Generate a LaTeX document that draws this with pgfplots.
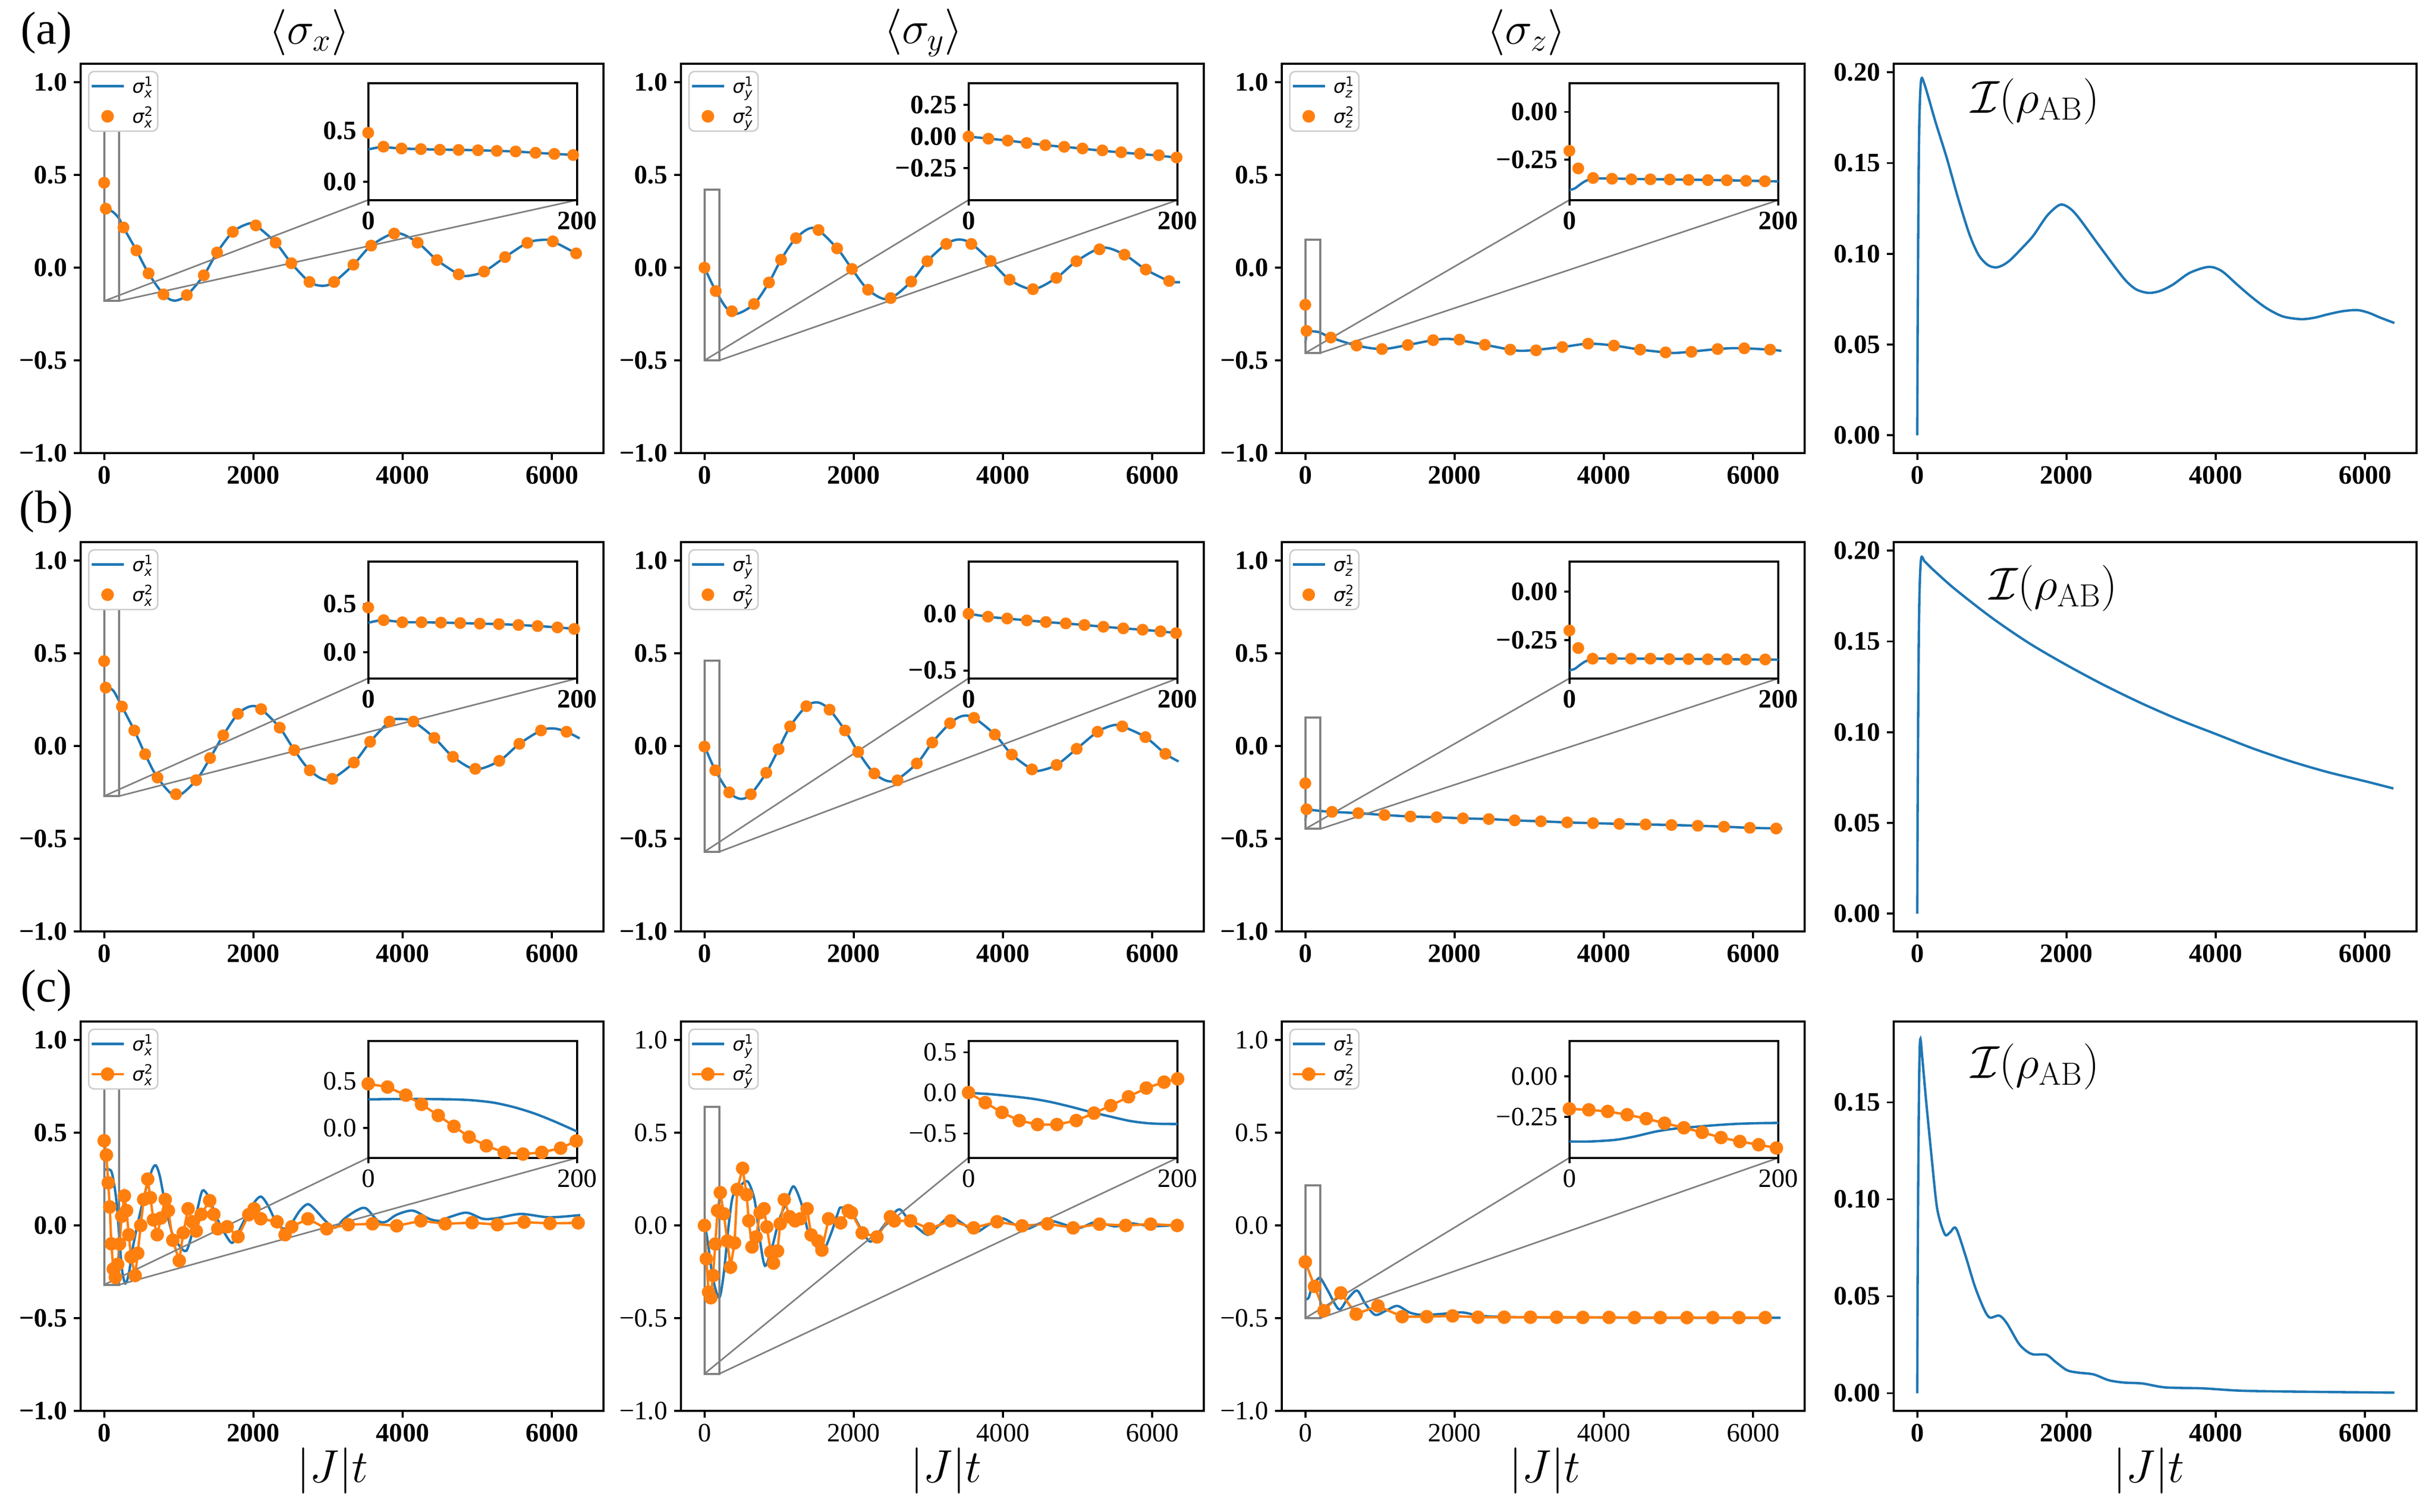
\documentclass[border=0pt]{standalone}
\usepackage[no-math]{fontspec}
\setmainfont{Liberation Serif}
\newfontfamily\djv{DejaVu Sans}
\usepackage{pgfplots}
\pgfplotsset{compat=1.18}

\definecolor{tblue}{HTML}{1F77B4}
\definecolor{torange}{HTML}{FF7F0E}
\definecolor{zgray}{HTML}{808080}

\newcommand\tfb{\fontsize{14.3}{16}\selectfont\bfseries}
\newcommand\tfr{\fontsize{14.3}{16}\selectfont}
\newcommand\lgf{\djv\fontsize{10}{11}\selectfont}
\newcommand\lsig[2]{{\djv\itshape σ}$^{\hbox{\djv\fontsize{7}{8}\selectfont #1}}_{\hbox{\djv\itshape\fontsize{7}{8}\selectfont #2}}$\hspace{0.07cm}}

\tikzset{
  zrect/.style={zgray, line width=1.1pt},
  zline/.style={zgray, line width=0.85pt},
}
\pgfplotsset{
  base/.style={scale only axis, tick pos=left, tick align=outside,
    tick style={black, line width=1.1pt}, axis line style={line width=1.1pt},
    tick label style={font=\tfb},
    legend image code/.code={\draw[mark repeat=2,mark phase=2,##1] plot coordinates {(0cm,0cm) (0.305cm,0cm) (0.61cm,0cm)};\path[draw=none,fill=none] (0.73cm,0cm) circle (0pt);}},
  mainax/.style={base, width=9.92cm, height=7.39cm, xmin=-315, xmax=6690, ymin=-1, ymax=1.1,
    xtick={0,2000,4000,6000}, xticklabels={0,2000,4000,6000},
    ytick={-1,-0.5,0,0.5,1}, yticklabels={\textminus1.0,\textminus0.5,0.0,0.5,1.0},
    major tick length=0.13cm,
    legend cell align=left,
    legend style={at={(axis description cs:0.014,0.982)}, anchor=north west,
      draw=black!20, line width=0.8pt, rounded corners=3pt, fill=white,
      inner xsep=0.03cm, inner ysep=0.05cm, row sep=0.11cm, font=\lgf,
      nodes={inner sep=0.05cm}}},
  insax/.style={base, width=3.968cm, height=2.217cm, xmin=0, xmax=200,
    xtick={0,200}, xticklabels={0,200}, major tick length=0.1cm,
    axis background/.style={fill=white}},
  iax/.style={base, width=9.92cm, height=7.39cm, xmin=-315, xmax=6690,
    xtick={0,2000,4000,6000}, xticklabels={0,2000,4000,6000}, major tick length=0.13cm},
  reg/.style={tick label style={font=\tfr}},
  bl/.style={color=tblue, line width=1.3pt, smooth, tension=0.5, mark=none},
  om/.style={color=torange, only marks, mark=*, mark size=3pt, mark options={fill=torange}},
  ol/.style={color=torange, line width=1.3pt, mark=*, mark size=3pt, mark options={fill=torange}},
}

\begin{document}
\begin{tikzpicture}
\path[use as bounding box] (0,0) rectangle (46.2cm,-28.7cm);

% titles and panel labels
\node at (5.87cm,-0.62cm) {\fontsize{23}{27}\selectfont$\langle\sigma_x\rangle$};
\node at (17.52cm,-0.62cm) {\fontsize{23}{27}\selectfont$\langle\sigma_y\rangle$};
\node at (28.96cm,-0.62cm) {\fontsize{23}{27}\selectfont$\langle\sigma_z\rangle$};
\node at (0.88cm,-0.62cm) {\fontsize{25}{30}\selectfont (a)};
\node at (0.88cm,-9.71cm) {\fontsize{25}{30}\selectfont (b)};
\node at (0.88cm,-18.80cm) {\fontsize{25}{30}\selectfont (c)};
\node at (6.31cm,-27.92cm) {\fontsize{24}{28}\selectfont$|J|t$};
\node at (17.95cm,-27.92cm) {\fontsize{24}{28}\selectfont$|J|t$};
\node at (29.31cm,-27.92cm) {\fontsize{24}{28}\selectfont$|J|t$};
\node at (40.77cm,-27.92cm) {\fontsize{24}{28}\selectfont$|J|t$};

%%%%%%%%%%%%%%%% row (a)
% a1
\begin{axis}[mainax, at={(1.53cm,-1.21cm)}, anchor=north west]
\addplot[bl] coordinates {(0,0.30)(22,0.318)(120,0.30)(200,0.265)(259,0.217)(432,0.093)(595,-0.031)(795,-0.144)(940,-0.178)(1108,-0.148)(1335,-0.041)(1513,0.082)(1724,0.193)(1930,0.237)(2032,0.228)(2297,0.135)(2508,0.024)(2751,-0.077)(2930,-0.098)(3081,-0.077)(3340,0.016)(3578,0.119)(3910,0.187)(4200,0.135)(4459,0.041)(4751,-0.036)(4876,-0.044)(5091,-0.021)(5372,0.057)(5670,0.134)(5876,0.150)(6011,0.142)(6324,0.077)(6370,0.068)};
\addplot[om] coordinates {(0,0.458)(22,0.318)(259,0.217)(432,0.093)(595,-0.031)(795,-0.144)(1108,-0.148)(1335,-0.041)(1513,0.082)(1724,0.193)(2032,0.228)(2297,0.135)(2508,0.024)(2751,-0.077)(3081,-0.077)(3340,0.016)(3578,0.119)(3886,0.184)(4200,0.135)(4459,0.041)(4751,-0.036)(5091,-0.021)(5372,0.057)(5670,0.134)(6011,0.142)(6324,0.077)};
\draw[zrect] (axis cs:0,-0.18) rectangle (axis cs:200,0.97);
\draw[zline] (axis cs:0,-0.18) -- (axis description cs:0.55,0.65) (axis cs:200,-0.18) -- (axis description cs:0.95,0.65);
\addlegendentry{\lsig{1}{x}}
\addlegendentry{\lsig{2}{x}}
\end{axis}
\begin{axis}[insax, at={(6.986cm,-3.7965cm)}, anchor=south west, ymin=-0.18, ymax=0.97, ytick={0,0.5}, yticklabels={0.0,0.5}]
\addplot[bl] coordinates {(0,0.318)(8,0.335)(15,0.34)(32,0.327)(50,0.321)(68,0.316)(86,0.314)(105,0.31)(123,0.304)(141,0.297)(160,0.285)(178,0.274)(200,0.262)};
\addplot[om] coordinates {(0,0.482)(14.6,0.345)(31.9,0.327)(50.4,0.321)(68.5,0.315)(86.5,0.313)(105,0.310)(123,0.304)(141,0.298)(160,0.285)(178,0.274)(196,0.263)};
\end{axis}

% a2
\begin{axis}[mainax, at={(12.92cm,-1.21cm)}, anchor=north west]
\addplot[bl] coordinates {(0,0)(151,-0.126)(300,-0.22)(432,-0.249)(664,-0.196)(864,-0.08)(1026,0.043)(1226,0.159)(1470,0.214)(1777,0.104)(1976,-0.007)(2192,-0.119)(2460,-0.17)(2770,-0.075)(2986,0.035)(3240,0.128)(3410,0.152)(3575,0.13)(3834,0.036)(4088,-0.065)(4401,-0.116)(4714,-0.055)(4984,0.035)(5330,0.108)(5627,0.07)(5913,-0.01)(6226,-0.072)(6372,-0.078)};
\addplot[om] coordinates {(0,0)(151,-0.126)(367,-0.235)(664,-0.196)(864,-0.080)(1026,0.043)(1226,0.159)(1528,0.203)(1777,0.104)(1976,-0.007)(2192,-0.119)(2495,-0.164)(2770,-0.075)(2986,0.035)(3240,0.128)(3575,0.128)(3834,0.036)(4088,-0.065)(4401,-0.116)(4714,-0.055)(4984,0.035)(5292,0.099)(5627,0.070)(5913,-0.010)(6226,-0.072)};
\draw[zrect] (axis cs:0,-0.50) rectangle (axis cs:200,0.42);
\draw[zline] (axis cs:0,-0.50) -- (axis description cs:0.55,0.65) (axis cs:200,-0.50) -- (axis description cs:0.95,0.65);
\addlegendentry{\lsig{1}{y}}
\addlegendentry{\lsig{2}{y}}
\end{axis}
\begin{axis}[insax, at={(18.376cm,-3.7965cm)}, anchor=south west, ymin=-0.50, ymax=0.42, ytick={-0.25,0,0.25}, yticklabels={\textminus0.25,0.00,0.25}]
\addplot[bl] coordinates {(0,0)(20,-0.017)(40,-0.034)(60,-0.055)(80,-0.073)(100,-0.088)(120,-0.105)(140,-0.121)(160,-0.135)(180,-0.149)(200,-0.167)};
\addplot[om] coordinates {(0,0)(19,-0.017)(37.5,-0.032)(55.6,-0.051)(73.4,-0.068)(91.5,-0.081)(109,-0.094)(128,-0.109)(146,-0.124)(164,-0.135)(182,-0.147)(199,-0.165)};
\end{axis}

% a3
\begin{axis}[mainax, at={(24.32cm,-1.21cm)}, anchor=north west]
\addplot[bl] coordinates {(0,-0.406)(15,-0.36)(30,-0.342)(120,-0.344)(200,-0.35)(341,-0.377)(687,-0.42)(1027,-0.439)(1373,-0.417)(1713,-0.391)(1950,-0.385)(2405,-0.416)(2746,-0.442)(2950,-0.448)(3443,-0.428)(3789,-0.410)(4135,-0.42)(4486,-0.442)(4827,-0.457)(5000,-0.459)(5524,-0.439)(5800,-0.434)(6227,-0.442)(6378,-0.449)};
\addplot[om] coordinates {(0,-0.2)(16,-0.341)(341,-0.377)(687,-0.420)(1027,-0.439)(1373,-0.417)(1713,-0.391)(2065,-0.388)(2405,-0.416)(2746,-0.442)(3092,-0.446)(3443,-0.428)(3789,-0.410)(4135,-0.420)(4486,-0.442)(4827,-0.457)(5173,-0.454)(5524,-0.439)(5881,-0.435)(6227,-0.442)};
\draw[zrect] (axis cs:0,-0.46) rectangle (axis cs:200,0.15);
\draw[zline] (axis cs:0,-0.46) -- (axis description cs:0.55,0.65) (axis cs:200,-0.46) -- (axis description cs:0.95,0.65);
\addlegendentry{\lsig{1}{z}}
\addlegendentry{\lsig{2}{z}}
\end{axis}
\begin{axis}[insax, at={(29.776cm,-3.7965cm)}, anchor=south west, ymin=-0.46, ymax=0.15, ytick={-0.25,0}, yticklabels={\textminus0.25,0.00}]
\addplot[bl] coordinates {(0,-0.408)(5,-0.40)(10,-0.38)(15,-0.362)(20,-0.352)(30,-0.347)(60,-0.35)(100,-0.353)(150,-0.357)(200,-0.363)};
\addplot[om] coordinates {(0,-0.203)(8.5,-0.295)(22.7,-0.345)(40.8,-0.349)(59.3,-0.352)(77.5,-0.352)(96,-0.353)(114,-0.355)(132.5,-0.356)(150.6,-0.357)(169,-0.36)(187,-0.362)};
\end{axis}

% a4
\begin{axis}[iax, at={(35.93cm,-1.21cm)}, anchor=north west, ymin=-0.00975, ymax=0.2047, ytick={0,0.05,0.1,0.15,0.2}, yticklabels={0.00,0.05,0.10,0.15,0.20}]
\addplot[bl] coordinates {(0,0)(10,0.09)(25,0.165)(50,0.195)(100,0.193)(242,0.173)(394,0.153)(545,0.131)(697,0.111)(820,0.0995)(940,0.0940)(1050,0.0925)(1150,0.0938)(1252,0.0968)(1400,0.103)(1555,0.110)(1740,0.121)(1909,0.127)(2030,0.1255)(2161,0.120)(2464,0.103)(2767,0.0865)(2930,0.0805)(3096,0.0785)(3250,0.0795)(3424,0.0830)(3650,0.0895)(3904,0.0928)(4080,0.0905)(4282,0.0832)(4486,0.0760)(4686,0.0699)(4900,0.0655)(5141,0.064)(5320,0.0648)(5494,0.0666)(5700,0.0684)(5898,0.069)(6050,0.0675)(6201,0.0649)(6393,0.0619)};
\node[anchor=west] at (axis description cs:0.135,0.903) {\fontsize{24}{28}\selectfont$\mathcal{I}(\rho_{\rm AB})$};
\end{axis}

%%%%%%%%%%%%%%%% row (b)
% b1
\begin{axis}[mainax, at={(1.53cm,-10.29cm)}, anchor=north west]
\addplot[bl] coordinates {(0,0.30)(21,0.315)(120,0.30)(238,0.213)(404,0.084)(549,-0.044)(715,-0.17)(963,-0.27)(1233,-0.184)(1419,-0.065)(1596,0.058)(1792,0.174)(1968,0.215)(2103,0.199)(2352,0.099)(2548,-0.022)(2756,-0.131)(3004,-0.183)(3346,-0.089)(3564,0.023)(3823,0.132)(3960,0.146)(4144,0.132)(4424,0.044)(4673,-0.058)(4973,-0.125)(5294,-0.080)(5563,0.012)(5853,0.084)(6020,0.095)(6195,0.077)(6371,0.041)};
\addplot[om] coordinates {(0,0.458)(21,0.315)(238,0.213)(404,0.084)(549,-0.044)(715,-0.170)(963,-0.260)(1233,-0.184)(1419,-0.065)(1596,0.058)(1792,0.174)(2103,0.199)(2352,0.099)(2548,-0.022)(2756,-0.131)(3056,-0.177)(3346,-0.089)(3564,0.023)(3823,0.132)(4144,0.132)(4424,0.044)(4673,-0.058)(4973,-0.123)(5294,-0.080)(5563,0.012)(5853,0.084)(6195,0.077)};
\draw[zrect] (axis cs:0,-0.27) rectangle (axis cs:200,0.94);
\draw[zline] (axis cs:0,-0.27) -- (axis description cs:0.55,0.65) (axis cs:200,-0.27) -- (axis description cs:0.95,0.65);
\addlegendentry{\lsig{1}{x}}
\addlegendentry{\lsig{2}{x}}
\end{axis}
\begin{axis}[insax, at={(6.986cm,-12.8765cm)}, anchor=south west, ymin=-0.27, ymax=0.94, ytick={0,0.5}, yticklabels={0.0,0.5}]
\addplot[bl] coordinates {(0,0.306)(8,0.325)(15,0.333)(33,0.313)(51,0.311)(70,0.308)(88,0.303)(107,0.297)(125,0.292)(144,0.283)(162,0.272)(181,0.258)(200,0.24)};
\addplot[om] coordinates {(0,0.464)(14.8,0.333)(32.6,0.311)(51,0.311)(69.6,0.308)(88,0.303)(106.7,0.297)(125,0.292)(143.7,0.283)(162,0.272)(181,0.258)(197,0.242)};
\end{axis}

% b2
\begin{axis}[mainax, at={(12.92cm,-10.29cm)}, anchor=north west]
\addplot[bl] coordinates {(0,0)(145,-0.131)(331,-0.25)(486,-0.285)(621,-0.26)(828,-0.144)(993,-0.017)(1148,0.106)(1365,0.215)(1521,0.235)(1676,0.196)(1883,0.084)(2059,-0.032)(2276,-0.148)(2524,-0.19)(2845,-0.094)(3052,0.019)(3290,0.123)(3455,0.162)(3611,0.152)(3890,0.062)(4118,-0.046)(4387,-0.126)(4490,-0.133)(4718,-0.102)(4987,-0.015)(5267,0.077)(5473,0.112)(5598,0.106)(5908,0.048)(6176,-0.042)(6352,-0.083)};
\addplot[om] coordinates {(0,-0.003)(145,-0.131)(331,-0.250)(621,-0.260)(828,-0.144)(993,-0.017)(1148,0.106)(1365,0.215)(1676,0.196)(1883,0.084)(2059,-0.032)(2276,-0.148)(2586,-0.185)(2845,-0.094)(3052,0.019)(3290,0.123)(3611,0.152)(3890,0.062)(4118,-0.046)(4387,-0.126)(4718,-0.102)(4987,-0.015)(5267,0.077)(5598,0.106)(5908,0.048)(6176,-0.042)};
\draw[zrect] (axis cs:0,-0.57) rectangle (axis cs:200,0.46);
\draw[zline] (axis cs:0,-0.57) -- (axis description cs:0.55,0.65) (axis cs:200,-0.57) -- (axis description cs:0.95,0.65);
\addlegendentry{\lsig{1}{y}}
\addlegendentry{\lsig{2}{y}}
\end{axis}
\begin{axis}[insax, at={(18.376cm,-12.8765cm)}, anchor=south west, ymin=-0.57, ymax=0.46, ytick={-0.5,0}, yticklabels={\textminus0.5,0.0}]
\addplot[bl] coordinates {(0,0)(20,-0.028)(40,-0.045)(60,-0.062)(80,-0.077)(100,-0.091)(120,-0.107)(140,-0.123)(160,-0.137)(180,-0.152)(200,-0.172)};
\addplot[om] coordinates {(0,0)(18.6,-0.026)(37,-0.042)(55.8,-0.059)(74,-0.073)(93,-0.085)(110.8,-0.099)(129,-0.115)(148,-0.129)(166.5,-0.141)(183.6,-0.155)(198.5,-0.171)};
\end{axis}

% b3
\begin{axis}[mainax, at={(24.32cm,-10.29cm)}, anchor=north west]
\addplot[bl] coordinates {(0,-0.401)(10,-0.37)(20,-0.348)(40,-0.343)(200,-0.35)(357,-0.355)(709,-0.362)(1061,-0.372)(1408,-0.38)(1760,-0.384)(2112,-0.39)(2458,-0.394)(2805,-0.401)(3157,-0.406)(3509,-0.412)(3855,-0.416)(4207,-0.42)(4559,-0.423)(4906,-0.426)(5258,-0.43)(5610,-0.435)(5956,-0.441)(6390,-0.445)};
\addplot[om] coordinates {(0,-0.201)(16,-0.341)(357,-0.355)(709,-0.362)(1061,-0.372)(1408,-0.380)(1760,-0.384)(2112,-0.390)(2458,-0.394)(2805,-0.401)(3157,-0.406)(3509,-0.412)(3855,-0.416)(4207,-0.420)(4559,-0.423)(4906,-0.426)(5258,-0.430)(5610,-0.435)(5956,-0.441)(6308,-0.445)};
\draw[zrect] (axis cs:0,-0.447) rectangle (axis cs:200,0.153);
\draw[zline] (axis cs:0,-0.447) -- (axis description cs:0.55,0.65) (axis cs:200,-0.447) -- (axis description cs:0.95,0.65);
\addlegendentry{\lsig{1}{z}}
\addlegendentry{\lsig{2}{z}}
\end{axis}
\begin{axis}[insax, at={(29.776cm,-12.8765cm)}, anchor=south west, ymin=-0.449, ymax=0.156, ytick={-0.25,0}, yticklabels={\textminus0.25,0.00}]
\addplot[bl] coordinates {(0,-0.407)(5,-0.40)(10,-0.38)(15,-0.362)(22,-0.348)(30,-0.346)(100,-0.348)(200,-0.352)};
\addplot[om] coordinates {(0,-0.201)(8.5,-0.292)(22.3,-0.347)(40.5,-0.347)(59,-0.347)(77.5,-0.347)(95.6,-0.349)(114,-0.349)(132.5,-0.35)(150.6,-0.35)(168.7,-0.351)(187.3,-0.351)};
\end{axis}

% b4
\begin{axis}[iax, at={(35.93cm,-10.29cm)}, anchor=north west, ymin=-0.00975, ymax=0.2047, ytick={0,0.05,0.1,0.15,0.2}, yticklabels={0.00,0.05,0.10,0.15,0.20}]
\addplot[bl] coordinates {(0,0)(10,0.09)(25,0.165)(50,0.195)(100,0.194)(200,0.19)(500,0.179)(1000,0.163)(1500,0.149)(2000,0.137)(2500,0.126)(3000,0.116)(3500,0.107)(4000,0.099)(4500,0.091)(5000,0.084)(5500,0.078)(6000,0.073)(6380,0.069)};
\node[anchor=west] at (axis description cs:0.17,0.882) {\fontsize{24}{28}\selectfont$\mathcal{I}(\rho_{\rm AB})$};
\end{axis}

%%%%%%%%%%%%%%%% row (c)
% c1
\begin{axis}[mainax, at={(1.53cm,-19.39cm)}, anchor=north west]
\addplot[bl] coordinates {(0,0.30)(90,0.297)(134,0.221)(170,0.112)(206,-0.083)(242,-0.246)(285,-0.313)(332,-0.257)(386,-0.116)(458,0.025)(548,0.177)(639,0.297)(693,0.324)(747,0.264)(819,0.112)(909,-0.04)(999,-0.105)(1100,-0.137)(1180,-0.04)(1252,0.09)(1317,0.188)(1396,0.156)(1504,0.047)(1612,-0.04)(1713,-0.094)(1793,-0.04)(1901,0.047)(2009,0.123)(2099,0.156)(2189,0.112)(2297,0.025)(2406,-0.018)(2514,0.015)(2622,0.08)(2730,0.115)(2838,0.08)(2964,0.025)(3091,-0.012)(3217,0.036)(3379,0.08)(3505,0.093)(3667,0.025)(3776,0.02)(3920,0.058)(4136,0.08)(4353,0.036)(4497,0.025)(4641,0.047)(4858,0.069)(5074,0.036)(5259,0.039)(5583,0.062)(5962,0.044)(6378,0.056)};
\addplot[ol] coordinates {(0,0.457)(30,0.38)(55,0.23)(75,0.10)(96,-0.099)(123,-0.235)(150,-0.28)(181,-0.21)(206,-0.10)(235,0.05)(271,0.16)(300,0.08)(330,-0.05)(360,-0.17)(415,-0.27)(450,-0.15)(490,0.0)(530,0.14)(584,0.25)(620,0.15)(660,0.03)(711,-0.05)(760,0.04)(819,0.14)(860,0.08)(920,-0.08)(1006,-0.19)(1060,-0.04)(1125,0.09)(1180,0.02)(1234,-0.03)(1300,0.06)(1414,0.134)(1470,0.06)(1522,-0.018)(1648,-0.007)(1793,-0.061)(1937,0.058)(2009,0.09)(2099,0.036)(2316,0.02)(2424,-0.05)(2514,-0.007)(2730,0.036)(2982,-0.018)(3271,0.004)(3595,0.009)(3920,-0.002)(4244,0.025)(4569,0.009)(4930,0.015)(5269,0.004)(5626,0.018)(5973,0.011)(6351,0.014)};
\draw[zrect] (axis cs:0,-0.32) rectangle (axis cs:200,0.93);
\draw[zline] (axis cs:0,-0.32) -- (axis description cs:0.55,0.65) (axis cs:200,-0.32) -- (axis description cs:0.95,0.65);
\addlegendentry{\lsig{1}{x}}
\addlegendentry{\lsig{2}{x}}
\end{axis}
\begin{axis}[insax, reg, at={(6.986cm,-21.9765cm)}, anchor=south west, ymin=-0.32, ymax=0.93, ytick={0,0.5}, yticklabels={0.0,0.5}]
\addplot[bl] coordinates {(0,0.305)(40,0.31)(80,0.305)(100,0.295)(120,0.27)(140,0.22)(160,0.15)(180,0.06)(200,-0.04)};
\addplot[ol] coordinates {(0,0.472)(18.5,0.437)(36,0.35)(51,0.252)(67,0.133)(82,0.017)(96.5,-0.098)(113,-0.192)(130,-0.262)(148,-0.28)(166,-0.262)(184,-0.217)(199,-0.14)};
\end{axis}

% c2
\begin{axis}[mainax, reg, at={(12.92cm,-19.39cm)}, anchor=north west]
\addplot[bl] coordinates {(0,0)(25,-0.04)(61,-0.138)(115,-0.29)(198,-0.39)(259,-0.258)(313,-0.04)(367,0.134)(421,0.194)(480,0.215)(580,0.237)(673,0.134)(745,-0.084)(812,-0.218)(907,-0.116)(997,0.025)(1105,0.134)(1195,0.211)(1303,0.112)(1393,-0.04)(1501,-0.116)(1590,-0.14)(1699,-0.04)(1789,0.069)(1830,0.097)(1969,0.069)(2095,-0.018)(2218,-0.087)(2329,-0.04)(2473,0.036)(2610,0.087)(2725,0.036)(2869,-0.018)(2997,-0.05)(3121,-0.008)(3290,0.048)(3445,0.014)(3635,-0.035)(3805,0.003)(3990,0.038)(4165,0.003)(4330,-0.018)(4617,0.026)(4995,-0.014)(5238,0.018)(5500,-0.005)(5697,0.012)(6000,-0.004)(6372,0.004)};
\addplot[ol] coordinates {(0,0)(25,-0.18)(55,-0.36)(85,-0.39)(115,-0.27)(145,-0.10)(175,0.08)(212,0.177)(259,0.063)(306,-0.084)(349,-0.225)(403,-0.094)(439,0.194)(511,0.308)(565,0.166)(594,0.025)(637,-0.116)(691,-0.062)(745,0.069)(799,0.09)(835,-0.008)(889,-0.143)(925,-0.203)(979,-0.138)(1015,0.009)(1069,0.139)(1141,0.047)(1213,0.025)(1285,0.036)(1375,0.09)(1429,-0.051)(1519,-0.084)(1573,-0.133)(1663,0.036)(1825,0.014)(1926,0.08)(1969,0.069)(2113,-0.04)(2311,-0.062)(2491,0.047)(2545,0.025)(2761,0.025)(3013,-0.018)(3301,0.025)(3607,-0.013)(3920,0.02)(4255,-0.002)(4597,0.009)(4939,-0.013)(5292,0.007)(5643,0)(5978,0.007)(6334,0)};
\draw[zrect] (axis cs:0,-0.80) rectangle (axis cs:200,0.64);
\draw[zline] (axis cs:0,-0.80) -- (axis description cs:0.55,0.65) (axis cs:200,-0.80) -- (axis description cs:0.95,0.65);
\addlegendentry{\lsig{1}{y}}
\addlegendentry{\lsig{2}{y}}
\end{axis}
\begin{axis}[insax, reg, at={(18.376cm,-21.9765cm)}, anchor=south west, ymin=-0.80, ymax=0.64, ytick={-0.5,0,0.5}, yticklabels={\textminus0.5,0.0,0.5}]
\addplot[bl] coordinates {(0,0)(20,-0.015)(40,-0.04)(60,-0.07)(77,-0.108)(96,-0.165)(115,-0.229)(135,-0.29)(154,-0.345)(170,-0.372)(185,-0.382)(200,-0.383)};
\addplot[ol] coordinates {(0,0.004)(16,-0.12)(32,-0.241)(48.5,-0.341)(66,-0.39)(84.5,-0.39)(103,-0.341)(120,-0.249)(136,-0.157)(153,-0.048)(170,0.06)(187,0.133)(200,0.173)};
\end{axis}

% c3
\begin{axis}[mainax, reg, at={(24.32cm,-19.39cm)}, anchor=north west]
\addplot[bl] coordinates {(0,-0.40)(44,-0.39)(82,-0.34)(121,-0.31)(160,-0.292)(205,-0.285)(300,-0.35)(449,-0.452)(560,-0.40)(692,-0.351)(800,-0.42)(935,-0.482)(1080,-0.46)(1232,-0.434)(1400,-0.47)(1557,-0.482)(1800,-0.478)(2097,-0.469)(2300,-0.485)(2530,-0.492)(3000,-0.495)(4000,-0.497)(5000,-0.498)(6367,-0.498)};
\addplot[ol] coordinates {(0,-0.197)(124,-0.329)(249,-0.46)(476,-0.364)(681,-0.478)(973,-0.434)(1297,-0.492)(1627,-0.492)(1973,-0.488)(2313,-0.495)(2665,-0.495)(3016,-0.495)(3367,-0.495)(3719,-0.496)(4070,-0.496)(4410,-0.497)(4756,-0.497)(5113,-0.497)(5459,-0.497)(5810,-0.497)(6162,-0.497)};
\draw[zrect] (axis cs:0,-0.50) rectangle (axis cs:200,0.216);
\draw[zline] (axis cs:0,-0.50) -- (axis description cs:0.55,0.65) (axis cs:200,-0.50) -- (axis description cs:0.95,0.65);
\addlegendentry{\lsig{1}{z}}
\addlegendentry{\lsig{2}{z}}
\end{axis}
\begin{axis}[insax, reg, at={(29.776cm,-21.9765cm)}, anchor=south west, ymin=-0.50, ymax=0.216, ytick={-0.25,0}, yticklabels={\textminus0.25,0.00}]
\addplot[bl] coordinates {(0,-0.40)(20,-0.40)(44,-0.39)(62,-0.37)(82,-0.34)(100,-0.322)(121,-0.31)(140,-0.30)(160,-0.292)(180,-0.288)(200,-0.286)};
\addplot[ol] coordinates {(0,-0.2)(18.6,-0.206)(36.7,-0.216)(55.3,-0.236)(73.5,-0.26)(91,-0.288)(109.5,-0.316)(127,-0.344)(145,-0.376)(163,-0.40)(181,-0.42)(198,-0.44)};
\end{axis}

% c4
\begin{axis}[iax, at={(35.93cm,-19.39cm)}, anchor=north west, ymin=-0.0091, ymax=0.1917, ytick={0,0.05,0.1,0.15}, yticklabels={0.00,0.05,0.10,0.15}]
\addplot[bl] coordinates {(0,0)(10,0.09)(25,0.16)(40,0.1826)(70,0.172)(116,0.152)(192,0.122)(268,0.095)(369,0.082)(440,0.083)(520,0.085)(646,0.071)(773,0.055)(899,0.043)(975,0.039)(1101,0.040)(1202,0.036)(1353,0.026)(1454,0.022)(1555,0.020)(1732,0.0198)(1858,0.016)(2010,0.0118)(2161,0.0106)(2363,0.0097)(2565,0.0067)(2767,0.0055)(3020,0.005)(3323,0.003)(3828,0.0025)(4333,0.0013)(5090,0.0008)(6393,0.0003)};
\node[anchor=west] at (axis description cs:0.135,0.884) {\fontsize{24}{28}\selectfont$\mathcal{I}(\rho_{\rm AB})$};
\end{axis}
\end{tikzpicture}
\end{document}
